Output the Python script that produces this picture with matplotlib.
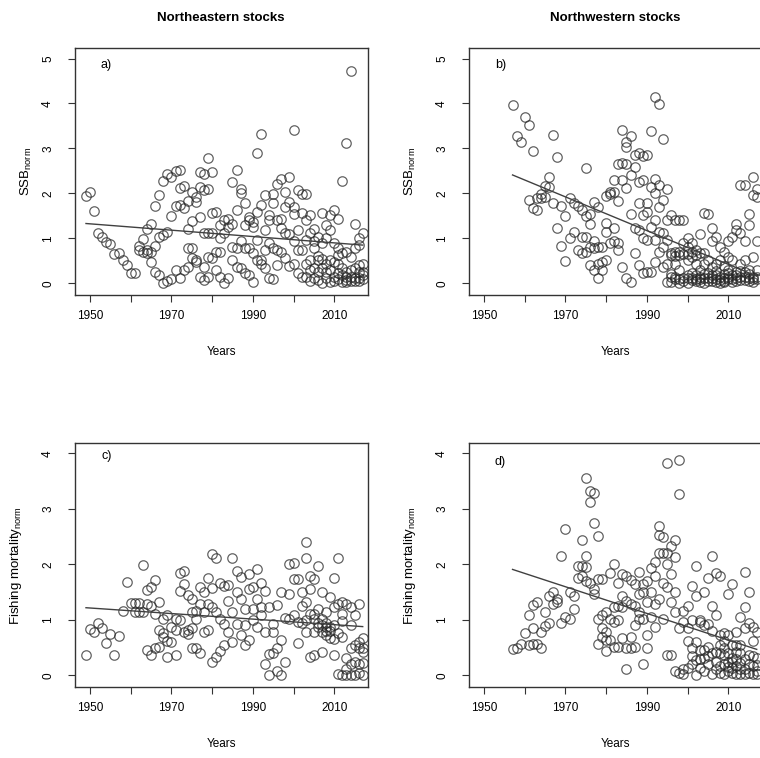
"""Normalised SSB and fishing mortality of NE / NW stocks over time (4 panels)."""
import matplotlib
matplotlib.use('Agg')
import matplotlib.pyplot as plt
import numpy as np

plt.rcParams['font.family'] = ['Liberation Sans', 'DejaVu Sans']
plt.rcParams['mathtext.fontset'] = 'custom'
plt.rcParams['mathtext.rm'] = 'Liberation Sans'

# a) Northeastern stocks, SSB_norm  (year, value)
ne_ssb = [
    (1949, 1.95), (1950, 2.02), (1951, 1.61), (1952, 1.13), (1953, 1.02), (1954, 0.91),
    (1955, 0.87), (1956, 0.65), (1957, 0.68), (1958, 0.52), (1959, 0.41), (1960, 0.24),
    (1961, 0.22), (1962, 0.83), (1962, 0.74), (1963, 0.98), (1963, 0.70),
    (1964, 1.20), (1964, 0.75), (1964, 0.68), (1965, 1.33), (1965, 0.48), (1965, 0.70),
    (1966, 1.72), (1966, 0.84), (1966, 0.26), (1967, 1.96), (1967, 1.02), (1967, 0.19),
    (1968, 2.28), (1968, 1.07), (1968, 0.01), (1969, 2.44), (1969, 1.15), (1969, 0.06),
    (1970, 2.37), (1970, 1.50), (1970, 0.09), (1971, 2.50), (1971, 1.72), (1971, 0.30),
    (1972, 2.53), (1972, 2.11), (1972, 1.74), (1972, 0.11), (1973, 2.16), (1973, 1.67),
    (1973, 0.30), (1974, 1.20), (1974, 1.84), (1974, 0.78), (1974, 0.36),
    (1975, 2.04), (1975, 1.39), (1975, 0.78), (1975, 0.56), (1976, 1.93), (1976, 1.80),
    (1976, 0.52), (1976, 0.48), (1977, 2.48), (1977, 2.15), (1977, 1.48), (1977, 0.15),
    (1978, 2.44), (1978, 2.07), (1978, 1.13), (1978, 0.36), (1978, 0.07),
    (1979, 2.78), (1979, 2.09), (1979, 1.13), (1979, 0.59), (1979, 0.15),
    (1980, 2.48), (1980, 1.56), (1980, 1.13), (1980, 0.56), (1981, 1.59), (1981, 0.70),
    (1981, 0.30), (1982, 1.30), (1982, 1.00), (1982, 0.70), (1982, 0.15),
    (1983, 1.41), (1983, 1.11), (1983, 0.01), (1984, 1.44), (1984, 1.26), (1984, 0.11),
    (1985, 2.26), (1985, 1.33), (1985, 0.81), (1985, 0.52), (1986, 2.52), (1986, 1.63),
    (1986, 0.78), (1986, 0.37), (1987, 2.09), (1987, 2.01), (1987, 0.95), (1987, 0.33),
    (1988, 1.78), (1988, 1.30), (1988, 0.78), (1988, 0.22), (1989, 1.48), (1989, 1.41),
    (1989, 0.78), (1989, 0.19), (1990, 1.37), (1990, 1.26), (1990, 0.67), (1990, 0.04),
    (1991, 2.89), (1991, 1.59), (1991, 0.96), (1991, 0.52), (1992, 3.33), (1992, 1.74),
    (1992, 0.52), (1992, 0.44), (1993, 1.96), (1993, 1.19), (1993, 0.74), (1993, 0.33),
    (1994, 1.52), (1994, 1.41), (1994, 0.89), (1994, 0.11), (1995, 1.99), (1995, 1.78),
    (1995, 0.78), (1995, 0.09), (1996, 2.21), (1996, 1.41), (1996, 0.74), (1996, 0.41),
    (1997, 2.31), (1997, 1.44), (1997, 1.22), (1997, 0.70), (1998, 2.04), (1998, 1.70),
    (1998, 1.11), (1998, 0.56), (1999, 2.37), (1999, 1.81), (1999, 1.10), (1999, 0.39),
    (2000, 3.42), (2000, 1.70), (2000, 1.54), (2000, 0.93), (2000, 0.44),
    (2001, 2.07), (2001, 1.19), (2001, 0.74), (2001, 0.22), (2002, 1.99), (2002, 1.57),
    (2002, 0.73), (2002, 0.13), (2003, 1.99), (2003, 1.41), (2003, 0.96), (2003, 0.44),
    (2004, 1.52), (2004, 1.11), (2004, 0.52), (2004, 0.06), (2005, 1.20), (2005, 0.95),
    (2005, 0.78), (2005, 0.11), (2006, 1.02), (2006, 0.52), (2006, 0.26), (2006, 0.60),
    (2007, 1.56), (2007, 0.89), (2007, 0.33), (2007, 0.01), (2008, 1.30), (2008, 1.00),
    (2008, 0.44), (2008, 0.11), (2009, 1.52), (2009, 1.19), (2009, 0.52), (2009, 0.04),
    (2010, 1.63), (2010, 0.90), (2010, 0.48), (2010, 0.15), (2011, 1.44), (2011, 0.78),
    (2011, 0.44), (2011, 0.22), (2012, 2.28), (2012, 0.67), (2012, 0.19), (2012, 0.04),
    (2013, 3.13), (2013, 0.70), (2013, 0.15), (2013, 0.04), (2014, 4.73), (2014, 0.59),
    (2014, 0.30), (2014, 0.06), (2015, 1.32), (2015, 0.78), (2015, 0.33), (2015, 0.11),
    (2016, 1.00), (2016, 0.85), (2016, 0.26), (2016, 0.11), (2017, 1.13), (2017, 0.44),
    (2017, 0.26), (2017, 0.09),
    # dense low cluster in the later years
    (2003, 0.15), (2004, 0.30), (2005, 0.35), (2006, 0.08), (2007, 0.55), (2008, 0.25),
    (2009, 0.30), (2010, 0.05), (2011, 0.10), (2012, 0.35), (2013, 0.08), (2014, 0.15),
    (2015, 0.05), (2016, 0.40), (2017, 0.18), (2013, 0.25), (2016, 0.05), (2011, 0.62),
]

# b) Northwestern stocks, SSB_norm
nw_ssb = [
    (1957, 3.96), (1958, 3.27), (1959, 3.15), (1960, 3.69), (1961, 3.53), (1961, 1.85),
    (1962, 2.94), (1962, 1.67), (1963, 1.63), (1963, 1.89), (1964, 1.98), (1964, 1.89),
    (1965, 2.16), (1965, 1.93), (1966, 2.37), (1966, 2.15), (1967, 3.30), (1967, 1.79),
    (1968, 2.81), (1968, 1.24), (1969, 1.72), (1969, 0.83), (1970, 1.50), (1970, 0.50),
    (1971, 1.89), (1971, 1.00), (1972, 1.78), (1972, 1.15), (1973, 1.72), (1973, 0.73),
    (1974, 1.63), (1974, 1.02), (1974, 0.67), (1975, 2.56), (1975, 1.50), (1975, 1.02),
    (1975, 0.70), (1976, 1.54), (1976, 1.33), (1976, 0.81), (1976, 0.41),
    (1977, 1.81), (1977, 0.95), (1977, 0.78), (1977, 0.30), (1978, 1.70), (1978, 0.81),
    (1978, 0.44), (1978, 0.11), (1979, 0.80), (1979, 0.48), (1979, 0.30),
    (1980, 1.94), (1980, 1.35), (1980, 1.15), (1980, 0.52), (1981, 1.99), (1981, 2.04),
    (1981, 0.89), (1982, 2.30), (1982, 2.04), (1982, 1.22), (1982, 0.93),
    (1983, 2.65), (1983, 1.84), (1983, 0.89), (1983, 0.74), (1984, 3.41), (1984, 2.67),
    (1984, 2.30), (1984, 0.36), (1985, 3.15), (1985, 3.04), (1985, 2.65), (1985, 2.11),
    (1985, 0.11), (1986, 3.27), (1986, 2.41), (1986, 1.54), (1986, 0.04),
    (1987, 2.85), (1987, 2.59), (1987, 1.24), (1987, 0.67), (1988, 2.89), (1988, 2.26),
    (1988, 1.78), (1988, 1.19), (1988, 0.41), (1989, 2.83), (1989, 2.30), (1989, 1.52),
    (1989, 1.00), (1989, 0.22), (1990, 2.85), (1990, 1.79), (1990, 1.59), (1990, 0.96),
    (1990, 0.26), (1991, 3.39), (1991, 2.15), (1991, 1.26), (1991, 0.26),
    (1992, 4.15), (1992, 2.33), (1992, 2.00), (1992, 1.41), (1992, 0.96), (1992, 0.48),
    (1993, 3.99), (1993, 2.19), (1993, 1.70), (1993, 1.15), (1993, 0.70),
    (1994, 3.20), (1994, 1.85), (1994, 1.13), (1994, 0.81), (1994, 0.37),
    (1995, 2.09), (1995, 1.41), (1995, 0.96), (1995, 0.44), (1995, 0.04),
    (1996, 1.52), (1996, 0.67), (1996, 0.13), (1996, 0.02), (1997, 1.41), (1997, 0.70),
    (1997, 0.44), (1997, 0.09), (1998, 1.41), (1998, 0.70), (1998, 0.30), (1998, 0.09),
    (1998, 0.01), (1999, 1.41), (1999, 0.89), (1999, 0.65), (1999, 0.11),
    (2000, 1.00), (2000, 0.81), (2000, 0.52), (2000, 0.11), (2000, 0.01),
    (2001, 0.89), (2001, 0.59), (2001, 0.22), (2001, 0.07), (2002, 0.74), (2002, 0.44),
    (2002, 0.19), (2002, 0.06), (2003, 1.10), (2003, 0.68), (2003, 0.30), (2003, 0.09),
    (2004, 1.56), (2004, 0.68), (2004, 0.44), (2004, 0.11), (2004, 0.01),
    (2005, 1.54), (2005, 0.52), (2005, 0.24), (2005, 0.06), (2006, 1.24), (2006, 0.93),
    (2006, 0.36), (2006, 0.11), (2007, 1.04), (2007, 0.44), (2007, 0.19), (2007, 0.04),
    (2008, 0.81), (2008, 0.52), (2008, 0.15), (2008, 0.01), (2009, 0.70), (2009, 0.39),
    (2009, 0.11), (2009, 0.06), (2010, 0.93), (2010, 0.59), (2010, 0.30), (2010, 0.09),
    (2011, 1.04), (2011, 0.52), (2011, 0.19), (2011, 0.04), (2012, 1.33), (2012, 1.19),
    (2012, 0.26), (2012, 0.11), (2013, 2.19), (2013, 1.11), (2013, 0.44), (2013, 0.15),
    (2014, 2.19), (2014, 0.93), (2014, 0.52), (2014, 0.07), (2015, 1.54), (2015, 1.30),
    (2015, 0.30), (2015, 0.11), (2016, 2.37), (2016, 1.96), (2016, 0.59), (2016, 0.15),
    (2016, 0.04), (2017, 2.09), (2017, 1.93), (2017, 0.95), (2017, 0.30), (2017, 0.09),
    # strip near 0.65 (mid 1990s) and dense band near zero afterwards
    (1996, 0.62), (1997, 0.60), (1998, 0.64), (2000, 0.66), (2001, 0.70), (2002, 0.62),
    (1996, 0.20), (1997, 0.15), (1999, 0.05), (2000, 0.18), (2001, 0.12), (2002, 0.10),
    (2003, 0.14), (2004, 0.20), (2005, 0.12), (2006, 0.05), (2006, 0.18), (2007, 0.10),
    (2008, 0.08), (2009, 0.20), (2010, 0.15), (2011, 0.10), (2012, 0.05), (2012, 0.18),
    (2013, 0.08), (2014, 0.15), (2014, 0.25), (2015, 0.05), (2015, 0.20), (2016, 0.10),
    (2017, 0.15), (2009, 0.02), (2003, 0.03), (2013, 0.28), (2010, 0.22), (2007, 0.28),
]

# c) Northeastern stocks, fishing mortality_norm
ne_f = [
    (1949, 0.37), (1950, 0.83), (1951, 0.79), (1952, 0.95), (1953, 0.85), (1954, 0.59),
    (1955, 0.74), (1956, 0.36), (1957, 0.71), (1958, 1.17), (1959, 1.69), (1960, 1.30),
    (1961, 1.15), (1961, 1.30), (1962, 1.30), (1962, 1.15), (1963, 1.99), (1963, 1.15),
    (1964, 1.29), (1964, 1.54), (1964, 0.46), (1965, 1.59), (1965, 1.26), (1965, 0.37),
    (1966, 1.72), (1966, 1.11), (1966, 0.49), (1967, 1.32), (1967, 0.82), (1967, 0.52),
    (1968, 1.02), (1968, 0.76), (1968, 0.70), (1969, 1.08), (1969, 0.62), (1969, 0.33),
    (1970, 0.88), (1970, 0.60), (1971, 1.02), (1971, 0.82), (1971, 0.36),
    (1972, 1.53), (1972, 1.85), (1972, 0.99), (1973, 1.88), (1973, 1.64), (1973, 0.79),
    (1974, 1.45), (1974, 0.82), (1974, 0.74), (1975, 1.38), (1975, 1.14), (1975, 0.49),
    (1975, 0.86), (1976, 1.17), (1976, 1.02), (1976, 0.49), (1977, 1.59), (1977, 1.29),
    (1977, 0.40), (1978, 1.51), (1978, 1.14), (1978, 0.79), (1979, 1.76), (1979, 1.29),
    (1979, 0.82), (1980, 2.18), (1980, 1.57), (1980, 1.24), (1980, 0.25),
    (1981, 2.12), (1981, 1.14), (1981, 0.33), (1982, 1.67), (1982, 1.02), (1982, 0.44),
    (1983, 1.62), (1983, 0.93), (1983, 0.55), (1984, 1.63), (1984, 1.35), (1984, 0.79),
    (1985, 2.12), (1985, 1.14), (1985, 0.61), (1986, 1.88), (1986, 1.50), (1986, 0.92),
    (1987, 1.78), (1987, 1.38), (1987, 0.73), (1988, 1.20), (1988, 0.91), (1988, 0.55),
    (1989, 1.82), (1989, 1.56), (1989, 0.64), (1990, 1.59), (1990, 1.20), (1990, 0.99),
    (1991, 1.92), (1991, 1.38), (1991, 0.88), (1992, 1.67), (1992, 1.23), (1992, 1.08),
    (1993, 1.53), (1993, 0.79), (1993, 0.20), (1994, 1.24), (1994, 0.38), (1994, 0.00),
    (1995, 0.93), (1995, 0.40), (1995, 0.79), (1996, 1.27), (1996, 0.49), (1996, 0.08),
    (1997, 1.50), (1997, 0.64), (1997, 0.00), (1998, 1.04), (1998, 0.25),
    (1999, 1.47), (1999, 2.00), (1999, 1.02), (2000, 2.02), (2000, 1.73), (2000, 1.08),
    (2001, 1.73), (2001, 0.96), (2001, 0.58), (2002, 1.50), (2002, 1.26), (2002, 0.95),
    (2003, 2.41), (2003, 2.12), (2003, 1.32), (2003, 0.79), (2004, 1.79), (2004, 1.56),
    (2004, 1.11), (2004, 0.33), (2005, 1.73), (2005, 1.02), (2005, 0.79), (2005, 0.37),
    (2006, 1.97), (2006, 1.20), (2006, 0.88), (2007, 1.50), (2007, 1.02), (2007, 0.79),
    (2007, 0.43), (2008, 1.14), (2008, 0.88), (2008, 0.73), (2009, 1.41), (2009, 0.88),
    (2009, 0.67), (2010, 1.76), (2010, 1.23), (2010, 0.65), (2010, 0.36),
    (2011, 2.12), (2011, 1.29), (2011, 0.76), (2011, 0.02), (2012, 1.32), (2012, 0.98),
    (2012, 0.70), (2012, 0.00), (2013, 1.29), (2013, 0.31), (2013, 0.11), (2013, 0.00),
    (2014, 1.23), (2014, 0.91), (2014, 0.20), (2014, 0.00), (2015, 1.08), (2015, 0.55),
    (2015, 0.25), (2015, 0.00), (2016, 1.29), (2016, 0.49), (2016, 0.20), (2016, 0.05),
    (2017, 0.67), (2017, 0.43), (2017, 0.22), (2017, 0.00),
    # dense cluster around 0.8-1.0 in the 2000s
    (2006, 0.95), (2007, 0.90), (2008, 0.95), (2009, 0.80), (2010, 0.90), (2008, 0.80),
    (2012, 1.10), (2014, 0.50), (2016, 0.60), (2017, 0.50), (2003, 1.00), (2005, 1.10),
]

# d) Northwestern stocks, fishing mortality_norm
nw_f = [
    (1957, 0.48), (1958, 0.50), (1959, 0.56), (1960, 0.77), (1961, 1.08), (1961, 0.55),
    (1962, 1.27), (1962, 0.85), (1962, 0.56), (1963, 1.33), (1963, 0.56), (1964, 0.79),
    (1964, 0.49), (1965, 1.15), (1965, 0.89), (1966, 1.44), (1966, 0.95), (1967, 1.51),
    (1967, 1.29), (1968, 1.37), (1968, 1.33), (1969, 2.16), (1969, 0.95), (1970, 2.63),
    (1970, 1.05), (1971, 1.50), (1971, 1.01), (1972, 1.44), (1972, 1.20),
    (1973, 1.97), (1973, 1.76), (1974, 2.44), (1974, 1.97), (1974, 1.79),
    (1975, 3.56), (1975, 2.16), (1975, 1.96), (1975, 1.70), (1976, 3.32), (1976, 3.12),
    (1976, 1.67), (1977, 3.28), (1977, 2.74), (1977, 1.56), (1977, 1.47),
    (1978, 2.51), (1978, 1.74), (1978, 1.02), (1978, 0.56), (1979, 1.74), (1979, 0.85),
    (1979, 0.70), (1979, 1.08), (1980, 1.14), (1980, 0.79), (1980, 0.64), (1980, 0.44),
    (1981, 1.85), (1981, 1.02), (1981, 0.64), (1982, 2.00), (1982, 1.23), (1982, 0.96),
    (1982, 0.52), (1983, 1.67), (1983, 1.25), (1983, 0.99), (1983, 0.52),
    (1984, 1.82), (1984, 1.44), (1984, 1.23), (1984, 0.67), (1985, 1.79), (1985, 1.35),
    (1985, 0.49), (1985, 0.12), (1986, 1.72), (1986, 1.29), (1986, 0.70), (1986, 0.49),
    (1987, 1.64), (1987, 1.26), (1987, 0.91), (1987, 0.52), (1988, 1.86), (1988, 1.47),
    (1988, 1.14), (1988, 1.02), (1989, 1.64), (1989, 1.50), (1989, 1.02), (1989, 0.20),
    (1990, 1.70), (1990, 1.33), (1990, 0.73), (1990, 0.50), (1991, 1.94), (1991, 1.50),
    (1991, 1.05), (1992, 2.04), (1992, 1.79), (1992, 1.29), (1992, 0.88),
    (1993, 2.69), (1993, 2.53), (1993, 2.21), (1993, 1.38), (1994, 2.49), (1994, 2.21),
    (1994, 1.67), (1994, 1.02), (1995, 3.83), (1995, 2.21), (1995, 2.00), (1995, 1.59),
    (1995, 0.37), (1996, 2.34), (1996, 1.82), (1996, 1.33), (1996, 0.37),
    (1997, 2.44), (1997, 2.14), (1997, 1.51), (1997, 1.15), (1997, 0.08),
    (1998, 3.88), (1998, 3.26), (1998, 0.85), (1998, 0.05), (1999, 1.17), (1999, 0.96),
    (1999, 0.12), (1999, 0.03), (2000, 1.26), (2000, 0.85), (2000, 0.62), (2000, 0.14),
    (2001, 1.62), (2001, 0.99), (2001, 0.49), (2001, 0.20), (2002, 1.97), (2002, 1.44),
    (2002, 0.61), (2002, 0.00), (2003, 0.99), (2003, 0.96), (2003, 0.46), (2003, 0.14),
    (2004, 1.51), (2004, 0.91), (2004, 0.31), (2004, 0.08), (2005, 1.76), (2005, 0.93),
    (2005, 0.52), (2005, 0.20), (2006, 2.15), (2006, 1.26), (2006, 0.80), (2006, 0.02),
    (2007, 1.85), (2007, 1.08), (2007, 0.43), (2007, 0.12), (2008, 1.80), (2008, 0.73),
    (2008, 0.40), (2008, 0.17), (2009, 0.76), (2009, 0.36), (2009, 0.20), (2009, 0.03),
    (2010, 1.47), (2010, 0.73), (2010, 0.25), (2010, 0.08), (2011, 1.64), (2011, 0.55),
    (2011, 0.31), (2011, 0.14), (2012, 0.79), (2012, 0.43), (2012, 0.17), (2012, 0.02),
    (2013, 1.05), (2013, 0.55), (2013, 0.22), (2013, 0.02), (2014, 1.86), (2014, 1.23),
    (2014, 0.86), (2014, 0.12), (2015, 1.50), (2015, 0.95), (2015, 0.37), (2015, 0.05),
    (2016, 0.88), (2016, 0.62), (2016, 0.17), (2016, 0.02), (2017, 0.79), (2017, 0.31),
    (2017, 0.08), (2017, 0.02),
    # dense cluster near zero in the 2000s
    (2001, 0.35), (2002, 0.28), (2003, 0.30), (2004, 0.45), (2005, 0.35), (2006, 0.40),
    (2007, 0.25), (2008, 0.55), (2009, 0.50), (2010, 0.40), (2011, 0.25), (2012, 0.30),
    (2013, 0.40), (2014, 0.30), (2015, 0.20), (2016, 0.35), (2017, 0.18), (2010, 0.15),
    (2012, 0.55), (2008, 0.05), (2014, 0.02), (2009, 0.62), (2011, 0.05), (2013, 0.12),
]

# linear trend lines: (start year, end year), (start value, end value)
trend_years_ne = [1949, 2017]
trend_years_nw = [1957, 2017]
trend_ne_ssb = [1.33, 0.85]
trend_nw_ssb = [2.41, 0.16]
trend_ne_f = [1.22, 0.88]
trend_nw_f = [1.91, 0.47]

titles = ['Northeastern stocks', 'Northwestern stocks']
panel_letters = ['a)', 'b)', 'c)', 'd)']


def draw_panel(ax, pts, t_years, t_vals, ymax, ylabel, letter, letter_y, ylab_x):
    pts = np.array(pts)
    ax.plot(pts[:, 0], pts[:, 1], 'o', mfc='none', mec=(0.15, 0.15, 0.15, 0.72),
            ms=6.8, mew=0.9, ls='none')
    ax.plot(t_years, t_vals, color='#404040', lw=1.0)
    ax.set_xlim(1946.3, 2018.3)
    pad = 0.052 * ymax
    ax.set_ylim(-pad, ymax + pad * 0.9)
    ax.set_xticks(np.arange(1950, 2011, 10))
    ax.set_xticklabels(['1950', '', '1970', '', '1990', '', '2010'])
    ax.set_yticks(np.arange(0, ymax + 1))
    ax.set_yticklabels([str(v) for v in range(ymax + 1)], rotation=90, va='center')
    ax.tick_params(direction='out', length=5, width=0.8, labelsize=8.5, color='#333333')
    ax.tick_params(axis='x', pad=6)
    ax.tick_params(axis='y', pad=10)
    for s in ax.spines.values():
        s.set_linewidth(1.0)
        s.set_color('#333333')
    ax.set_xlabel('Years', fontsize=8.5, labelpad=17)
    ax.set_ylabel(ylabel, fontsize=9.5)
    ax.yaxis.set_label_coords(ylab_x, 0.5)
    ax.text(1954.0, letter_y, letter, fontsize=9, ha='center', va='center')


fig = plt.figure(figsize=(7.6, 7.58), dpi=100)
w = 293 / 760
ax_a = fig.add_axes([75 / 760, 1 - 295 / 758, w, 247 / 758])
ax_b = fig.add_axes([469 / 760, 1 - 295 / 758, w, 247 / 758])
ax_c = fig.add_axes([75 / 760, 1 - 687 / 758, w, 244 / 758])
ax_d = fig.add_axes([469 / 760, 1 - 687 / 758, w, 244 / 758])

ssb_lab = r'SSB$_{\mathrm{norm}}$'
f_lab = r'Fishing mortality$_{\mathrm{norm}}$'
draw_panel(ax_a, ne_ssb, trend_years_ne, trend_ne_ssb, 5, ssb_lab, panel_letters[0], 4.85, -0.14)
draw_panel(ax_b, nw_ssb, trend_years_nw, trend_nw_ssb, 5, ssb_lab, panel_letters[1], 4.85, -0.175)
draw_panel(ax_c, ne_f, trend_years_ne, trend_ne_f, 4, f_lab, panel_letters[2], 3.95, -0.175)
draw_panel(ax_d, nw_f, trend_years_nw, trend_nw_f, 4, f_lab, panel_letters[3], 3.85, -0.175)

fig.text(221 / 760, 1 - 18 / 758, titles[0], ha='center', va='center',
         fontsize=9.5, fontweight='bold')
fig.text(615 / 760, 1 - 18 / 758, titles[1], ha='center', va='center',
         fontsize=9.5, fontweight='bold')

fig.savefig('out.png', dpi=100)
